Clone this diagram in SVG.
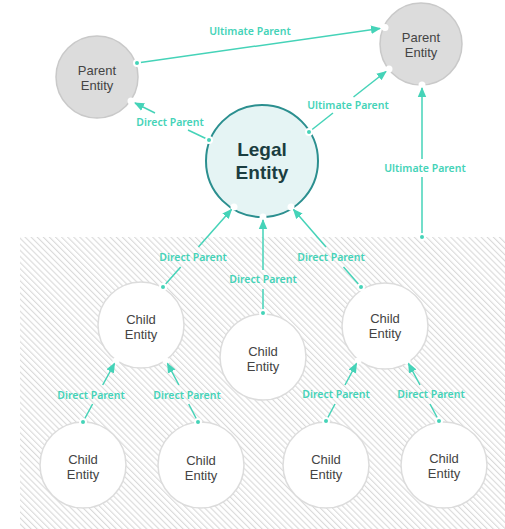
<svg xmlns="http://www.w3.org/2000/svg" width="505" height="529" viewBox="0 0 505 529">
<defs>
<pattern id="hatch" patternUnits="userSpaceOnUse" width="4.3" height="10" patternTransform="rotate(-45)">
<line x1="0.6" y1="0" x2="0.6" y2="10" stroke="#d6d6d6" stroke-width="1"/>
</pattern>
<marker id="arr" markerUnits="userSpaceOnUse" markerWidth="10" markerHeight="10" viewBox="0 0 10 10" refX="9" refY="5" orient="auto">
<path d="M0,0.8 L10,5 L0,9.2 Z" fill="#45d3b8"/>
</marker>
</defs>
<style>
.edge{stroke:#45d3b8;stroke-width:1.5;fill:none}
.lbl{font-family:"Noto Sans","Liberation Sans",sans-serif;font-size:10.5px;font-weight:600;fill:#45d3b8;text-anchor:middle}
.nt{font-family:"Liberation Sans",Arial,sans-serif;font-size:13px;fill:#444;text-anchor:middle}
.parent{fill:#dcdcdc;stroke:#c9c9c9;stroke-width:1.5}
.child{fill:#fff;stroke:#dcdcdc;stroke-width:1.5}
.dot{fill:#45d3b8;stroke:#fff;stroke-width:2}
.gap{fill:#fff}
.le{font-family:"Liberation Sans",Arial,sans-serif;font-size:19px;font-weight:700;fill:#1b3d40;text-anchor:middle}
</style>
<rect x="20" y="237" width="485" height="292" fill="url(#hatch)"/>

<g id="parent-left">
<circle class="parent" cx="97" cy="77" r="41"/>
<text class="nt" x="97" y="75">Parent</text>
<text class="nt" x="97" y="90">Entity</text>
</g>
<g id="parent-right">
<circle class="parent" cx="421" cy="44" r="41"/>
<text class="nt" x="421" y="42">Parent</text>
<text class="nt" x="421" y="57">Entity</text>
</g>
<g id="legal-entity">
<circle cx="262" cy="161" r="56" fill="#e5f4f4" stroke="#2b8f8f" stroke-width="2"/>
<text class="le" x="262" y="156">Legal</text>
<text class="le" x="262" y="179">Entity</text>
</g>
<g id="child-1">
<circle class="child" cx="141" cy="325" r="43"/>
<text class="nt" x="141" y="323.5">Child</text>
<text class="nt" x="141" y="338.5">Entity</text>
</g>
<g id="child-2">
<circle class="child" cx="263" cy="357" r="43"/>
<text class="nt" x="263" y="355.5">Child</text>
<text class="nt" x="263" y="370.5">Entity</text>
</g>
<g id="child-3">
<circle class="child" cx="385" cy="326" r="43"/>
<text class="nt" x="385" y="322.5">Child</text>
<text class="nt" x="385" y="337.5">Entity</text>
</g>
<g id="child-4">
<circle class="child" cx="83" cy="465" r="43"/>
<text class="nt" x="83" y="463.5">Child</text>
<text class="nt" x="83" y="478.5">Entity</text>
</g>
<g id="child-5">
<circle class="child" cx="201" cy="465" r="43"/>
<text class="nt" x="201" y="464.5">Child</text>
<text class="nt" x="201" y="479.5">Entity</text>
</g>
<g id="child-6">
<circle class="child" cx="326" cy="465" r="43"/>
<text class="nt" x="326" y="463.5">Child</text>
<text class="nt" x="326" y="478.5">Entity</text>
</g>
<g id="child-7">
<circle class="child" cx="444" cy="465" r="43"/>
<text class="nt" x="444" y="462.5">Child</text>
<text class="nt" x="444" y="477.5">Entity</text>
</g>

<g id="connectors">
<circle class="gap" cx="385" cy="27.5" r="3.5"/>
<line class="edge" x1="137" y1="63" x2="380" y2="28.5" marker-end="url(#arr)"/>
<circle class="dot" cx="137" cy="63" r="3"/>
<text class="lbl" x="250" y="35">Ultimate Parent</text>

<circle class="gap" cx="131" cy="101" r="3.5"/>
<line class="edge" x1="209" y1="140" x2="188" y2="130"/>
<line class="edge" x1="155" y1="113" x2="135" y2="103" marker-end="url(#arr)"/>
<circle class="dot" cx="209" cy="140" r="3"/>
<text class="lbl" x="170" y="126">Direct Parent</text>

<circle class="gap" cx="389" cy="69" r="3.5"/>
<line class="edge" x1="309" y1="132" x2="333" y2="113"/>
<line class="edge" x1="353.5" y1="97" x2="386" y2="71.5" marker-end="url(#arr)"/>
<circle class="dot" cx="309" cy="132" r="3"/>
<text class="lbl" x="348" y="109">Ultimate Parent</text>

<circle class="gap" cx="422" cy="85" r="3.5"/>
<line class="edge" x1="422" y1="237" x2="422" y2="177"/>
<line class="edge" x1="422" y1="159" x2="422" y2="88" marker-end="url(#arr)"/>
<circle class="dot" cx="422" cy="237" r="3"/>
<text class="lbl" x="425" y="172">Ultimate Parent</text>

<circle class="gap" cx="234" cy="207" r="3.5"/>
<line class="edge" x1="163" y1="287" x2="180.7" y2="267"/>
<line class="edge" x1="198.4" y1="247" x2="231.5" y2="209.5" marker-end="url(#arr)"/>
<circle class="dot" cx="163" cy="287" r="3"/>
<text class="lbl" x="193" y="261">Direct Parent</text>

<circle class="gap" cx="263" cy="217" r="3.5"/>
<line class="edge" x1="263" y1="313" x2="263" y2="289"/>
<line class="edge" x1="263" y1="270" x2="263" y2="220" marker-end="url(#arr)"/>
<circle class="dot" cx="263" cy="313" r="3"/>
<text class="lbl" x="263" y="283">Direct Parent</text>

<circle class="gap" cx="291" cy="207" r="3.5"/>
<line class="edge" x1="361" y1="287" x2="343.5" y2="267"/>
<line class="edge" x1="326" y1="247" x2="293.5" y2="209.5" marker-end="url(#arr)"/>
<circle class="dot" cx="361" cy="287" r="3"/>
<text class="lbl" x="331" y="261">Direct Parent</text>

<circle class="gap" cx="116" cy="361" r="3.5"/>
<line class="edge" x1="83" y1="422" x2="92.6" y2="404"/>
<line class="edge" x1="102.7" y1="385" x2="114.5" y2="363.5" marker-end="url(#arr)"/>
<circle class="dot" cx="83" cy="422" r="3"/>
<text class="lbl" x="91" y="399">Direct Parent</text>

<circle class="gap" cx="166" cy="361" r="3.5"/>
<line class="edge" x1="198" y1="422" x2="188.7" y2="404"/>
<line class="edge" x1="178.9" y1="385" x2="167.5" y2="363.5" marker-end="url(#arr)"/>
<circle class="dot" cx="198" cy="422" r="3"/>
<text class="lbl" x="187" y="399">Direct Parent</text>

<circle class="gap" cx="358" cy="361" r="3.5"/>
<line class="edge" x1="326" y1="421" x2="335" y2="404"/>
<line class="edge" x1="345" y1="385" x2="356.5" y2="363.5" marker-end="url(#arr)"/>
<circle class="dot" cx="326" cy="421" r="3"/>
<text class="lbl" x="336" y="398">Direct Parent</text>

<circle class="gap" cx="407" cy="361" r="3.5"/>
<line class="edge" x1="439" y1="421" x2="430" y2="404"/>
<line class="edge" x1="420" y1="385" x2="408.5" y2="363.5" marker-end="url(#arr)"/>
<circle class="dot" cx="439" cy="421" r="3"/>
<text class="lbl" x="431" y="398">Direct Parent</text>
</g>
</svg>
